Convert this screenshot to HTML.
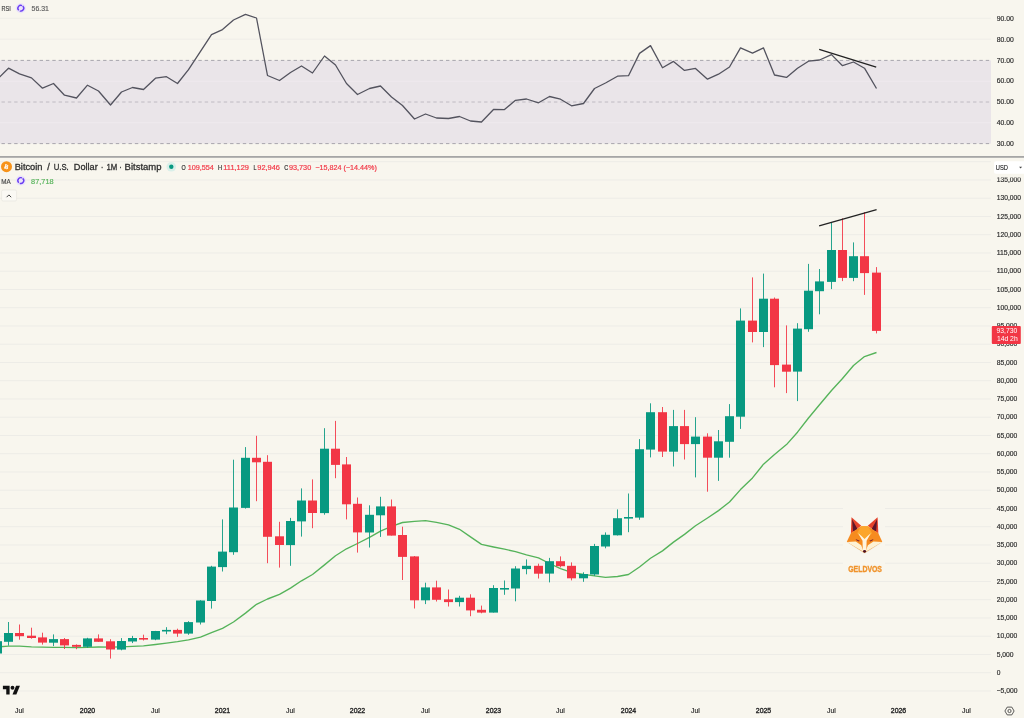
<!DOCTYPE html>
<html lang="en"><head><meta charset="utf-8"><title>Bitcoin / U.S. Dollar chart</title>
<style>
html,body{margin:0;padding:0;background:#f8f6ee;}
body{width:1024px;height:718px;overflow:hidden;}
svg{display:block;font-family:"Liberation Sans","DejaVu Sans",sans-serif;}
text{fill:#2c2c2c;stroke:#2c2c2c;stroke-width:0.18px;}
</style></head><body>
<svg width="1024" height="718" viewBox="0 0 1024 718">
<rect width="1024" height="718" fill="#f8f6ee"/>

<rect x="0" y="60.4" width="991" height="83.2" fill="#eae5e9"/>
<line x1="0" x2="991" y1="18.4" y2="18.4" stroke="#edece7" stroke-width="0.8"/>
<line x1="0" x2="991" y1="39.2" y2="39.2" stroke="#edece7" stroke-width="0.8"/>
<line x1="0" x2="991" y1="81.2" y2="81.2" stroke="#f0ecf0" stroke-width="0.8"/>
<line x1="0" x2="991" y1="122.8" y2="122.8" stroke="#f0ecf0" stroke-width="0.8"/>
<line x1="1.5" x2="991" y1="60.4" y2="60.4" stroke="#8a8692" stroke-width="0.7" stroke-dasharray="3.4 2.95"/>
<line x1="1.5" x2="991" y1="102.0" y2="102.0" stroke="#a9a5ae" stroke-width="0.65" stroke-dasharray="3.4 2.95"/>
<line x1="1.5" x2="991" y1="143.6" y2="143.6" stroke="#8a8692" stroke-width="0.7" stroke-dasharray="3.4 2.95"/>
<polyline points="-2.50,79.0 8.50,68.2 19.50,73.9 31.50,77.9 42.50,88.2 53.50,83.5 64.50,95.2 76.50,98.0 87.50,85.2 98.50,91.0 110.50,105.0 121.50,92.0 132.50,87.5 143.50,89.5 155.50,78.2 166.50,76.7 177.50,83.5 188.50,69.7 200.50,51.4 211.50,34.6 222.50,29.6 233.50,20.0 245.50,14.3 256.50,18.0 267.50,75.5 279.50,80.5 290.50,72.5 301.50,66.0 312.50,73.0 324.50,56.0 335.50,65.0 346.50,83.5 357.50,94.5 369.50,88.5 380.50,86.0 391.50,97.0 402.50,105.5 414.50,119.0 425.50,114.0 436.50,118.0 448.50,118.5 459.50,116.5 470.50,121.0 481.50,122.0 493.50,109.5 504.50,109.6 515.50,100.3 526.50,99.0 538.50,102.8 549.50,96.5 560.50,99.2 571.50,105.8 583.50,103.5 594.50,88.5 605.50,83.0 617.50,76.2 628.50,75.7 639.50,53.4 650.50,45.6 662.50,67.7 673.50,61.4 684.50,70.4 695.50,68.4 707.50,79.2 718.50,74.2 729.50,67.0 740.50,47.9 752.50,53.2 763.50,47.9 774.50,75.0 786.50,77.4 797.50,68.2 808.50,61.2 819.50,60.0 831.50,54.6 842.50,65.7 853.50,62.0 864.50,68.2 876.50,88.5" fill="none" stroke="#53535e" stroke-width="1.3" stroke-linejoin="round"/>
<line x1="819.2" y1="49.4" x2="876.2" y2="67.2" stroke="#222" stroke-width="1.3"/>
<text x="996.7" y="21.0" font-size="7.4" textLength="17" lengthAdjust="spacingAndGlyphs">90.00</text>
<text x="996.7" y="41.8" font-size="7.4" textLength="17" lengthAdjust="spacingAndGlyphs">80.00</text>
<text x="996.7" y="62.6" font-size="7.4" textLength="17" lengthAdjust="spacingAndGlyphs">70.00</text>
<text x="996.7" y="83.4" font-size="7.4" textLength="17" lengthAdjust="spacingAndGlyphs">60.00</text>
<text x="996.7" y="104.2" font-size="7.4" textLength="17" lengthAdjust="spacingAndGlyphs">50.00</text>
<text x="996.7" y="125.0" font-size="7.4" textLength="17" lengthAdjust="spacingAndGlyphs">40.00</text>
<text x="996.7" y="145.8" font-size="7.4" textLength="17" lengthAdjust="spacingAndGlyphs">30.00</text>
<text x="1.5" y="10.85" font-size="7.4" textLength="9.3" lengthAdjust="spacingAndGlyphs" style="fill:#444;stroke:#444">RSI</text>
<circle cx="20.8" cy="8.2" r="5" fill="#ebe4f9"/><circle cx="20.8" cy="8.2" r="2.9" fill="none" stroke="#6a3df2" stroke-width="1.4" stroke-dasharray="7.9 1.2" transform="rotate(-50 20.8 8.2)"/>
<text x="31.6" y="10.85" font-size="7.6" textLength="17.3" lengthAdjust="spacingAndGlyphs" style="fill:#5e5e5e;stroke:#5e5e5e">56.31</text>
<rect x="0" y="156" width="1024" height="1.8" fill="#a6a6a6"/>
<line x1="0" x2="991" y1="691.0" y2="691.0" stroke="#edece7" stroke-width="1"/>
<line x1="0" x2="991" y1="672.7" y2="672.7" stroke="#edece7" stroke-width="1"/>
<line x1="0" x2="991" y1="654.5" y2="654.5" stroke="#edece7" stroke-width="1"/>
<line x1="0" x2="991" y1="636.2" y2="636.2" stroke="#edece7" stroke-width="1"/>
<line x1="0" x2="991" y1="618.0" y2="618.0" stroke="#edece7" stroke-width="1"/>
<line x1="0" x2="991" y1="599.7" y2="599.7" stroke="#edece7" stroke-width="1"/>
<line x1="0" x2="991" y1="581.5" y2="581.5" stroke="#edece7" stroke-width="1"/>
<line x1="0" x2="991" y1="563.2" y2="563.2" stroke="#edece7" stroke-width="1"/>
<line x1="0" x2="991" y1="545.0" y2="545.0" stroke="#edece7" stroke-width="1"/>
<line x1="0" x2="991" y1="526.7" y2="526.7" stroke="#edece7" stroke-width="1"/>
<line x1="0" x2="991" y1="508.5" y2="508.5" stroke="#edece7" stroke-width="1"/>
<line x1="0" x2="991" y1="490.2" y2="490.2" stroke="#edece7" stroke-width="1"/>
<line x1="0" x2="991" y1="472.0" y2="472.0" stroke="#edece7" stroke-width="1"/>
<line x1="0" x2="991" y1="453.7" y2="453.7" stroke="#edece7" stroke-width="1"/>
<line x1="0" x2="991" y1="435.5" y2="435.5" stroke="#edece7" stroke-width="1"/>
<line x1="0" x2="991" y1="417.2" y2="417.2" stroke="#edece7" stroke-width="1"/>
<line x1="0" x2="991" y1="399.0" y2="399.0" stroke="#edece7" stroke-width="1"/>
<line x1="0" x2="991" y1="380.7" y2="380.7" stroke="#edece7" stroke-width="1"/>
<line x1="0" x2="991" y1="362.5" y2="362.5" stroke="#edece7" stroke-width="1"/>
<line x1="0" x2="991" y1="344.2" y2="344.2" stroke="#edece7" stroke-width="1"/>
<line x1="0" x2="991" y1="326.0" y2="326.0" stroke="#edece7" stroke-width="1"/>
<line x1="0" x2="991" y1="307.7" y2="307.7" stroke="#edece7" stroke-width="1"/>
<line x1="0" x2="991" y1="289.5" y2="289.5" stroke="#edece7" stroke-width="1"/>
<line x1="0" x2="991" y1="271.2" y2="271.2" stroke="#edece7" stroke-width="1"/>
<line x1="0" x2="991" y1="253.0" y2="253.0" stroke="#edece7" stroke-width="1"/>
<line x1="0" x2="991" y1="234.7" y2="234.7" stroke="#edece7" stroke-width="1"/>
<line x1="0" x2="991" y1="216.5" y2="216.5" stroke="#edece7" stroke-width="1"/>
<line x1="0" x2="991" y1="198.2" y2="198.2" stroke="#edece7" stroke-width="1"/>
<line x1="0" x2="991" y1="180.0" y2="180.0" stroke="#edece7" stroke-width="1"/>
<line x1="0" x2="991" y1="161.7" y2="161.7" stroke="#edece7" stroke-width="1"/>
<polyline points="-2.50,646.9 8.50,646.1 19.50,646.1 31.50,646.9 42.50,647.2 53.50,647.4 64.50,647.3 76.50,647.7 87.50,647.3 98.50,647.0 110.50,647.2 121.50,646.9 132.50,646.4 143.50,645.9 155.50,644.5 166.50,643.1 177.50,641.7 188.50,639.9 200.50,637.1 211.50,632.7 222.50,628.3 233.50,622.0 245.50,613.1 256.50,604.3 267.50,599.0 279.50,594.3 290.50,588.1 301.50,580.8 312.50,574.5 324.50,564.9 335.50,555.7 346.50,548.8 357.50,543.5 369.50,537.3 380.50,531.1 391.50,526.3 402.50,522.5 414.50,521.4 425.50,520.7 436.50,522.3 448.50,524.8 459.50,529.3 470.50,536.9 481.50,544.4 493.50,547.0 504.50,549.2 515.50,551.6 526.50,554.8 538.50,557.9 549.50,563.5 560.50,568.6 571.50,572.3 583.50,574.4 594.50,575.9 605.50,577.4 617.50,576.5 628.50,574.5 639.50,567.0 650.50,558.3 662.50,550.9 673.50,542.1 684.50,534.4 695.50,525.7 707.50,518.0 718.50,510.6 729.50,502.0 740.50,489.6 752.50,477.9 763.50,464.2 774.50,454.4 786.50,444.6 797.50,432.2 808.50,418.0 819.50,404.8 831.50,390.5 842.50,378.5 853.50,365.5 864.50,356.6 876.50,352.5" fill="none" stroke="#55b35a" stroke-width="1.35" stroke-linejoin="round"/>
<line x1="-2.50" x2="-2.50" y1="639.5" y2="653.2" stroke="#089981" stroke-width="1" stroke-opacity="0.88"/>
<rect x="-7.00" y="641.2" width="9" height="12.3" fill="#089981"/>
<line x1="8.50" x2="8.50" y1="622.0" y2="645.6" stroke="#089981" stroke-width="1" stroke-opacity="0.88"/>
<rect x="4.00" y="633.0" width="9" height="8.8" fill="#089981"/>
<line x1="19.50" x2="19.50" y1="624.5" y2="639.7" stroke="#f23645" stroke-width="1" stroke-opacity="0.88"/>
<rect x="15.00" y="633.0" width="9" height="3.2" fill="#f23645"/>
<line x1="31.50" x2="31.50" y1="627.7" y2="638.7" stroke="#f23645" stroke-width="1" stroke-opacity="0.88"/>
<rect x="27.00" y="635.7" width="9" height="2.3" fill="#f23645"/>
<line x1="42.50" x2="42.50" y1="632.7" y2="644.6" stroke="#f23645" stroke-width="1" stroke-opacity="0.88"/>
<rect x="38.00" y="637.4" width="9" height="5.2" fill="#f23645"/>
<line x1="53.50" x2="53.50" y1="634.4" y2="646.1" stroke="#089981" stroke-width="1" stroke-opacity="0.88"/>
<rect x="49.00" y="639.1" width="9" height="3.6" fill="#089981"/>
<line x1="64.50" x2="64.50" y1="638.0" y2="649.0" stroke="#f23645" stroke-width="1" stroke-opacity="0.88"/>
<rect x="60.00" y="639.1" width="9" height="6.3" fill="#f23645"/>
<line x1="76.50" x2="76.50" y1="644.4" y2="649.2" stroke="#f23645" stroke-width="1" stroke-opacity="0.88"/>
<rect x="72.00" y="644.9" width="9" height="1.9" fill="#f23645"/>
<line x1="87.50" x2="87.50" y1="637.8" y2="647.7" stroke="#089981" stroke-width="1" stroke-opacity="0.88"/>
<rect x="83.00" y="638.4" width="9" height="8.4" fill="#089981"/>
<line x1="98.50" x2="98.50" y1="634.4" y2="641.9" stroke="#f23645" stroke-width="1" stroke-opacity="0.88"/>
<rect x="94.00" y="638.4" width="9" height="3.4" fill="#f23645"/>
<line x1="110.50" x2="110.50" y1="639.2" y2="658.6" stroke="#f23645" stroke-width="1" stroke-opacity="0.88"/>
<rect x="106.00" y="641.3" width="9" height="8.2" fill="#f23645"/>
<line x1="121.50" x2="121.50" y1="638.1" y2="650.3" stroke="#089981" stroke-width="1" stroke-opacity="0.88"/>
<rect x="117.00" y="641.0" width="9" height="8.6" fill="#089981"/>
<line x1="132.50" x2="132.50" y1="635.9" y2="643.1" stroke="#089981" stroke-width="1" stroke-opacity="0.88"/>
<rect x="128.00" y="638.0" width="9" height="3.5" fill="#089981"/>
<line x1="143.50" x2="143.50" y1="634.7" y2="640.5" stroke="#f23645" stroke-width="1" stroke-opacity="0.88"/>
<rect x="139.00" y="638.0" width="9" height="1.6" fill="#f23645"/>
<line x1="155.50" x2="155.50" y1="630.9" y2="640.2" stroke="#089981" stroke-width="1" stroke-opacity="0.88"/>
<rect x="151.00" y="631.0" width="9" height="8.6" fill="#089981"/>
<line x1="166.50" x2="166.50" y1="627.2" y2="634.2" stroke="#089981" stroke-width="1" stroke-opacity="0.88"/>
<rect x="162.00" y="629.9" width="9" height="1.6" fill="#089981"/>
<line x1="177.50" x2="177.50" y1="628.7" y2="636.8" stroke="#f23645" stroke-width="1" stroke-opacity="0.88"/>
<rect x="173.00" y="629.9" width="9" height="3.7" fill="#f23645"/>
<line x1="188.50" x2="188.50" y1="621.2" y2="634.8" stroke="#089981" stroke-width="1" stroke-opacity="0.88"/>
<rect x="184.00" y="622.1" width="9" height="11.5" fill="#089981"/>
<line x1="200.50" x2="200.50" y1="600.2" y2="624.5" stroke="#089981" stroke-width="1" stroke-opacity="0.88"/>
<rect x="196.00" y="600.5" width="9" height="22.0" fill="#089981"/>
<line x1="211.50" x2="211.50" y1="565.8" y2="608.6" stroke="#089981" stroke-width="1" stroke-opacity="0.88"/>
<rect x="207.00" y="566.6" width="9" height="34.4" fill="#089981"/>
<line x1="222.50" x2="222.50" y1="519.4" y2="571.5" stroke="#089981" stroke-width="1" stroke-opacity="0.88"/>
<rect x="218.00" y="551.6" width="9" height="15.5" fill="#089981"/>
<line x1="233.50" x2="233.50" y1="459.7" y2="554.8" stroke="#089981" stroke-width="1" stroke-opacity="0.88"/>
<rect x="229.00" y="507.5" width="9" height="44.7" fill="#089981"/>
<line x1="245.50" x2="245.50" y1="447.1" y2="508.6" stroke="#089981" stroke-width="1" stroke-opacity="0.88"/>
<rect x="241.00" y="457.8" width="9" height="50.1" fill="#089981"/>
<line x1="256.50" x2="256.50" y1="435.8" y2="501.2" stroke="#f23645" stroke-width="1" stroke-opacity="0.88"/>
<rect x="252.00" y="457.8" width="9" height="4.5" fill="#f23645"/>
<line x1="267.50" x2="267.50" y1="455.2" y2="563.2" stroke="#f23645" stroke-width="1" stroke-opacity="0.88"/>
<rect x="263.00" y="461.8" width="9" height="75.0" fill="#f23645"/>
<line x1="279.50" x2="279.50" y1="521.8" y2="567.6" stroke="#f23645" stroke-width="1" stroke-opacity="0.88"/>
<rect x="275.00" y="536.3" width="9" height="8.7" fill="#f23645"/>
<line x1="290.50" x2="290.50" y1="517.9" y2="565.8" stroke="#089981" stroke-width="1" stroke-opacity="0.88"/>
<rect x="286.00" y="521.0" width="9" height="24.1" fill="#089981"/>
<line x1="301.50" x2="301.50" y1="488.4" y2="536.6" stroke="#089981" stroke-width="1" stroke-opacity="0.88"/>
<rect x="297.00" y="500.5" width="9" height="20.9" fill="#089981"/>
<line x1="312.50" x2="312.50" y1="479.4" y2="528.2" stroke="#f23645" stroke-width="1" stroke-opacity="0.88"/>
<rect x="308.00" y="500.5" width="9" height="12.5" fill="#f23645"/>
<line x1="324.50" x2="324.50" y1="428.2" y2="514.7" stroke="#089981" stroke-width="1" stroke-opacity="0.88"/>
<rect x="320.00" y="448.7" width="9" height="64.4" fill="#089981"/>
<line x1="335.50" x2="335.50" y1="420.9" y2="478.2" stroke="#f23645" stroke-width="1" stroke-opacity="0.88"/>
<rect x="331.00" y="448.7" width="9" height="16.2" fill="#f23645"/>
<line x1="346.50" x2="346.50" y1="457.0" y2="519.4" stroke="#f23645" stroke-width="1" stroke-opacity="0.88"/>
<rect x="342.00" y="464.4" width="9" height="39.9" fill="#f23645"/>
<line x1="357.50" x2="357.50" y1="497.5" y2="552.6" stroke="#f23645" stroke-width="1" stroke-opacity="0.88"/>
<rect x="353.00" y="503.8" width="9" height="28.6" fill="#f23645"/>
<line x1="369.50" x2="369.50" y1="505.3" y2="547.5" stroke="#089981" stroke-width="1" stroke-opacity="0.88"/>
<rect x="365.00" y="514.8" width="9" height="17.7" fill="#089981"/>
<line x1="380.50" x2="380.50" y1="496.8" y2="536.9" stroke="#089981" stroke-width="1" stroke-opacity="0.88"/>
<rect x="376.00" y="506.4" width="9" height="8.9" fill="#089981"/>
<line x1="391.50" x2="391.50" y1="499.5" y2="535.5" stroke="#f23645" stroke-width="1" stroke-opacity="0.88"/>
<rect x="387.00" y="506.4" width="9" height="29.2" fill="#f23645"/>
<line x1="402.50" x2="402.50" y1="526.7" y2="580.0" stroke="#f23645" stroke-width="1" stroke-opacity="0.88"/>
<rect x="398.00" y="535.0" width="9" height="21.9" fill="#f23645"/>
<line x1="414.50" x2="414.50" y1="556.0" y2="608.5" stroke="#f23645" stroke-width="1" stroke-opacity="0.88"/>
<rect x="410.00" y="556.4" width="9" height="43.9" fill="#f23645"/>
<line x1="425.50" x2="425.50" y1="582.7" y2="604.1" stroke="#089981" stroke-width="1" stroke-opacity="0.88"/>
<rect x="421.00" y="587.4" width="9" height="12.9" fill="#089981"/>
<line x1="436.50" x2="436.50" y1="580.7" y2="601.5" stroke="#f23645" stroke-width="1" stroke-opacity="0.88"/>
<rect x="432.00" y="587.4" width="9" height="12.4" fill="#f23645"/>
<line x1="448.50" x2="448.50" y1="589.5" y2="606.5" stroke="#f23645" stroke-width="1" stroke-opacity="0.88"/>
<rect x="444.00" y="599.3" width="9" height="2.8" fill="#f23645"/>
<line x1="459.50" x2="459.50" y1="595.8" y2="606.5" stroke="#089981" stroke-width="1" stroke-opacity="0.88"/>
<rect x="455.00" y="597.7" width="9" height="4.4" fill="#089981"/>
<line x1="470.50" x2="470.50" y1="594.3" y2="616.2" stroke="#f23645" stroke-width="1" stroke-opacity="0.88"/>
<rect x="466.00" y="597.7" width="9" height="12.7" fill="#f23645"/>
<line x1="481.50" x2="481.50" y1="605.6" y2="613.3" stroke="#f23645" stroke-width="1" stroke-opacity="0.88"/>
<rect x="477.00" y="609.8" width="9" height="2.8" fill="#f23645"/>
<line x1="493.50" x2="493.50" y1="585.2" y2="612.5" stroke="#089981" stroke-width="1" stroke-opacity="0.88"/>
<rect x="489.00" y="588.0" width="9" height="24.6" fill="#089981"/>
<line x1="504.50" x2="504.50" y1="580.5" y2="594.8" stroke="#089981" stroke-width="1" stroke-opacity="0.88"/>
<rect x="500.00" y="588.0" width="9" height="1.6" fill="#089981"/>
<line x1="515.50" x2="515.50" y1="566.2" y2="601.3" stroke="#089981" stroke-width="1" stroke-opacity="0.88"/>
<rect x="511.00" y="568.5" width="9" height="20.0" fill="#089981"/>
<line x1="526.50" x2="526.50" y1="559.4" y2="574.3" stroke="#089981" stroke-width="1" stroke-opacity="0.88"/>
<rect x="522.00" y="565.8" width="9" height="3.3" fill="#089981"/>
<line x1="538.50" x2="538.50" y1="563.7" y2="578.5" stroke="#f23645" stroke-width="1" stroke-opacity="0.88"/>
<rect x="534.00" y="565.8" width="9" height="7.9" fill="#f23645"/>
<line x1="549.50" x2="549.50" y1="557.9" y2="582.4" stroke="#089981" stroke-width="1" stroke-opacity="0.88"/>
<rect x="545.00" y="561.2" width="9" height="12.4" fill="#089981"/>
<line x1="560.50" x2="560.50" y1="556.4" y2="567.4" stroke="#f23645" stroke-width="1" stroke-opacity="0.88"/>
<rect x="556.00" y="561.2" width="9" height="5.0" fill="#f23645"/>
<line x1="571.50" x2="571.50" y1="562.4" y2="580.4" stroke="#f23645" stroke-width="1" stroke-opacity="0.88"/>
<rect x="567.00" y="565.8" width="9" height="12.5" fill="#f23645"/>
<line x1="583.50" x2="583.50" y1="572.3" y2="581.8" stroke="#089981" stroke-width="1" stroke-opacity="0.88"/>
<rect x="579.00" y="574.0" width="9" height="4.3" fill="#089981"/>
<line x1="594.50" x2="594.50" y1="543.9" y2="575.9" stroke="#089981" stroke-width="1" stroke-opacity="0.88"/>
<rect x="590.00" y="546.0" width="9" height="28.5" fill="#089981"/>
<line x1="605.50" x2="605.50" y1="532.4" y2="548.3" stroke="#089981" stroke-width="1" stroke-opacity="0.88"/>
<rect x="601.00" y="534.8" width="9" height="11.7" fill="#089981"/>
<line x1="617.50" x2="617.50" y1="509.4" y2="535.5" stroke="#089981" stroke-width="1" stroke-opacity="0.88"/>
<rect x="613.00" y="518.2" width="9" height="17.1" fill="#089981"/>
<line x1="628.50" x2="628.50" y1="493.5" y2="532.2" stroke="#089981" stroke-width="1" stroke-opacity="0.88"/>
<rect x="624.00" y="517.0" width="9" height="1.6" fill="#089981"/>
<line x1="639.50" x2="639.50" y1="439.1" y2="519.8" stroke="#089981" stroke-width="1" stroke-opacity="0.88"/>
<rect x="635.00" y="449.2" width="9" height="68.4" fill="#089981"/>
<line x1="650.50" x2="650.50" y1="403.3" y2="457.4" stroke="#089981" stroke-width="1" stroke-opacity="0.88"/>
<rect x="646.00" y="412.2" width="9" height="37.4" fill="#089981"/>
<line x1="662.50" x2="662.50" y1="407.0" y2="457.0" stroke="#f23645" stroke-width="1" stroke-opacity="0.88"/>
<rect x="658.00" y="412.2" width="9" height="39.4" fill="#f23645"/>
<line x1="673.50" x2="673.50" y1="409.9" y2="466.5" stroke="#089981" stroke-width="1" stroke-opacity="0.88"/>
<rect x="669.00" y="426.1" width="9" height="25.6" fill="#089981"/>
<line x1="684.50" x2="684.50" y1="409.9" y2="459.5" stroke="#f23645" stroke-width="1" stroke-opacity="0.88"/>
<rect x="680.00" y="426.1" width="9" height="18.0" fill="#f23645"/>
<line x1="695.50" x2="695.50" y1="417.2" y2="477.4" stroke="#089981" stroke-width="1" stroke-opacity="0.88"/>
<rect x="691.00" y="436.6" width="9" height="7.5" fill="#089981"/>
<line x1="707.50" x2="707.50" y1="433.3" y2="491.7" stroke="#f23645" stroke-width="1" stroke-opacity="0.88"/>
<rect x="703.00" y="436.6" width="9" height="21.1" fill="#f23645"/>
<line x1="718.50" x2="718.50" y1="430.0" y2="480.9" stroke="#089981" stroke-width="1" stroke-opacity="0.88"/>
<rect x="714.00" y="441.3" width="9" height="16.4" fill="#089981"/>
<line x1="729.50" x2="729.50" y1="404.1" y2="457.7" stroke="#089981" stroke-width="1" stroke-opacity="0.88"/>
<rect x="725.00" y="416.2" width="9" height="25.6" fill="#089981"/>
<line x1="740.50" x2="740.50" y1="308.4" y2="428.9" stroke="#089981" stroke-width="1" stroke-opacity="0.88"/>
<rect x="736.00" y="320.6" width="9" height="96.1" fill="#089981"/>
<line x1="752.50" x2="752.50" y1="277.4" y2="342.4" stroke="#f23645" stroke-width="1" stroke-opacity="0.88"/>
<rect x="748.00" y="320.6" width="9" height="11.4" fill="#f23645"/>
<line x1="763.50" x2="763.50" y1="273.6" y2="347.1" stroke="#089981" stroke-width="1" stroke-opacity="0.88"/>
<rect x="759.00" y="298.7" width="9" height="33.3" fill="#089981"/>
<line x1="774.50" x2="774.50" y1="297.5" y2="387.3" stroke="#f23645" stroke-width="1" stroke-opacity="0.88"/>
<rect x="770.00" y="298.7" width="9" height="66.4" fill="#f23645"/>
<line x1="786.50" x2="786.50" y1="325.4" y2="393.1" stroke="#f23645" stroke-width="1" stroke-opacity="0.88"/>
<rect x="782.00" y="364.6" width="9" height="7.1" fill="#f23645"/>
<line x1="797.50" x2="797.50" y1="323.2" y2="401.1" stroke="#089981" stroke-width="1" stroke-opacity="0.88"/>
<rect x="793.00" y="328.6" width="9" height="43.0" fill="#089981"/>
<line x1="808.50" x2="808.50" y1="263.9" y2="331.8" stroke="#089981" stroke-width="1" stroke-opacity="0.88"/>
<rect x="804.00" y="290.7" width="9" height="38.5" fill="#089981"/>
<line x1="819.50" x2="819.50" y1="269.0" y2="314.3" stroke="#089981" stroke-width="1" stroke-opacity="0.88"/>
<rect x="815.00" y="281.4" width="9" height="9.8" fill="#089981"/>
<line x1="831.50" x2="831.50" y1="223.0" y2="289.1" stroke="#089981" stroke-width="1" stroke-opacity="0.88"/>
<rect x="827.00" y="250.0" width="9" height="31.9" fill="#089981"/>
<line x1="842.50" x2="842.50" y1="218.3" y2="281.1" stroke="#f23645" stroke-width="1" stroke-opacity="0.88"/>
<rect x="838.00" y="250.0" width="9" height="27.9" fill="#f23645"/>
<line x1="853.50" x2="853.50" y1="242.4" y2="281.2" stroke="#089981" stroke-width="1" stroke-opacity="0.88"/>
<rect x="849.00" y="256.2" width="9" height="21.7" fill="#089981"/>
<line x1="864.50" x2="864.50" y1="212.1" y2="294.9" stroke="#f23645" stroke-width="1" stroke-opacity="0.88"/>
<rect x="860.00" y="256.2" width="9" height="16.9" fill="#f23645"/>
<line x1="876.50" x2="876.50" y1="267.1" y2="333.4" stroke="#f23645" stroke-width="1" stroke-opacity="0.88"/>
<rect x="872.00" y="272.6" width="9" height="58.3" fill="#f23645"/>
<line x1="819.1" y1="225.8" x2="876.6" y2="209.6" stroke="#222" stroke-width="1.3"/>
<text x="996.7" y="693.0" font-size="7.4" textLength="20.8" lengthAdjust="spacingAndGlyphs">−5,000</text>
<text x="996.7" y="674.7" font-size="7.4" textLength="3.7" lengthAdjust="spacingAndGlyphs">0</text>
<text x="996.7" y="656.5" font-size="7.4" textLength="16.9" lengthAdjust="spacingAndGlyphs">5,000</text>
<text x="996.7" y="638.2" font-size="7.4" textLength="20.6" lengthAdjust="spacingAndGlyphs">10,000</text>
<text x="996.7" y="620.0" font-size="7.4" textLength="20.6" lengthAdjust="spacingAndGlyphs">15,000</text>
<text x="996.7" y="601.7" font-size="7.4" textLength="20.6" lengthAdjust="spacingAndGlyphs">20,000</text>
<text x="996.7" y="583.5" font-size="7.4" textLength="20.6" lengthAdjust="spacingAndGlyphs">25,000</text>
<text x="996.7" y="565.2" font-size="7.4" textLength="20.6" lengthAdjust="spacingAndGlyphs">30,000</text>
<text x="996.7" y="547.0" font-size="7.4" textLength="20.6" lengthAdjust="spacingAndGlyphs">35,000</text>
<text x="996.7" y="528.7" font-size="7.4" textLength="20.6" lengthAdjust="spacingAndGlyphs">40,000</text>
<text x="996.7" y="510.5" font-size="7.4" textLength="20.6" lengthAdjust="spacingAndGlyphs">45,000</text>
<text x="996.7" y="492.2" font-size="7.4" textLength="20.6" lengthAdjust="spacingAndGlyphs">50,000</text>
<text x="996.7" y="474.0" font-size="7.4" textLength="20.6" lengthAdjust="spacingAndGlyphs">55,000</text>
<text x="996.7" y="455.7" font-size="7.4" textLength="20.6" lengthAdjust="spacingAndGlyphs">60,000</text>
<text x="996.7" y="437.5" font-size="7.4" textLength="20.6" lengthAdjust="spacingAndGlyphs">65,000</text>
<text x="996.7" y="419.2" font-size="7.4" textLength="20.6" lengthAdjust="spacingAndGlyphs">70,000</text>
<text x="996.7" y="401.0" font-size="7.4" textLength="20.6" lengthAdjust="spacingAndGlyphs">75,000</text>
<text x="996.7" y="382.7" font-size="7.4" textLength="20.6" lengthAdjust="spacingAndGlyphs">80,000</text>
<text x="996.7" y="364.5" font-size="7.4" textLength="20.6" lengthAdjust="spacingAndGlyphs">85,000</text>
<text x="996.7" y="346.2" font-size="7.4" textLength="20.6" lengthAdjust="spacingAndGlyphs">90,000</text>
<text x="996.7" y="328.0" font-size="7.4" textLength="20.6" lengthAdjust="spacingAndGlyphs">95,000</text>
<text x="996.7" y="309.7" font-size="7.4" textLength="24.3" lengthAdjust="spacingAndGlyphs">100,000</text>
<text x="996.7" y="291.5" font-size="7.4" textLength="24.3" lengthAdjust="spacingAndGlyphs">105,000</text>
<text x="996.7" y="273.2" font-size="7.4" textLength="24.3" lengthAdjust="spacingAndGlyphs">110,000</text>
<text x="996.7" y="255.0" font-size="7.4" textLength="24.3" lengthAdjust="spacingAndGlyphs">115,000</text>
<text x="996.7" y="236.7" font-size="7.4" textLength="24.3" lengthAdjust="spacingAndGlyphs">120,000</text>
<text x="996.7" y="218.5" font-size="7.4" textLength="24.3" lengthAdjust="spacingAndGlyphs">125,000</text>
<text x="996.7" y="200.2" font-size="7.4" textLength="24.3" lengthAdjust="spacingAndGlyphs">130,000</text>
<text x="996.7" y="182.0" font-size="7.4" textLength="24.3" lengthAdjust="spacingAndGlyphs" clip-path="url(#axclip)">135,000</text>
<defs><clipPath id="axclip"><rect x="990" y="177.5" width="40" height="20"/></clipPath></defs>
<rect x="994" y="161.3" width="32" height="12.5" rx="2" fill="#ffffff"/>
<text x="995.8" y="169.8" font-size="8.1" textLength="12.2" lengthAdjust="spacingAndGlyphs" fill="#333">USD</text>
<path d="M1019.1 166.7 L1020.6 168.4 L1022.1 166.7 Z" fill="#444"/>
<rect x="991.8" y="325.9" width="29" height="18.1" rx="1" fill="#f23645"/>
<text x="996.5" y="332.9" font-size="7" textLength="20.9" lengthAdjust="spacingAndGlyphs" style="fill:#fff;stroke:none">93,730</text>
<text x="996.9" y="340.9" font-size="6.9" textLength="20.8" lengthAdjust="spacingAndGlyphs" style="fill:#fff;stroke:none">14d 2h</text>
<circle cx="6.5" cy="166.7" r="5.5" fill="#f7931a"/>
<text x="6.6" y="169" font-size="6.2" text-anchor="middle" transform="rotate(12 6.5 166.7)" style="fill:#fff;stroke:#fff;stroke-width:0.25px">Ƀ</text>
<text x="14.65" y="170" font-size="9.2" textLength="27.85" lengthAdjust="spacingAndGlyphs" style="fill:#2f2f2f;stroke:#2f2f2f;stroke-width:0.3px">Bitcoin</text>
<text x="47.3" y="170" font-size="9.2" textLength="2.60" lengthAdjust="spacingAndGlyphs" style="fill:#2f2f2f;stroke:#2f2f2f;stroke-width:0.3px">/</text>
<text x="53.7" y="170" font-size="9.2" textLength="15.05" lengthAdjust="spacingAndGlyphs" style="fill:#2f2f2f;stroke:#2f2f2f;stroke-width:0.3px">U.S.</text>
<text x="73.8" y="170" font-size="9.2" textLength="23.90" lengthAdjust="spacingAndGlyphs" style="fill:#2f2f2f;stroke:#2f2f2f;stroke-width:0.3px">Dollar</text>
<text x="100.9" y="170" font-size="9.2" textLength="2.20" lengthAdjust="spacingAndGlyphs" style="fill:#2f2f2f;stroke:#2f2f2f;stroke-width:0.3px">·</text>
<text x="106.4" y="170" font-size="9.2" textLength="10.80" lengthAdjust="spacingAndGlyphs" style="fill:#2f2f2f;stroke:#2f2f2f;stroke-width:0.3px">1M</text>
<text x="119.6" y="170" font-size="9.2" textLength="2.20" lengthAdjust="spacingAndGlyphs" style="fill:#2f2f2f;stroke:#2f2f2f;stroke-width:0.3px">·</text>
<text x="124.6" y="170" font-size="9.2" textLength="36.90" lengthAdjust="spacingAndGlyphs" style="fill:#2f2f2f;stroke:#2f2f2f;stroke-width:0.3px">Bitstamp</text>
<circle cx="171.3" cy="166.8" r="4.8" fill="#d9efe9"/><circle cx="171.3" cy="166.8" r="2.2" fill="#089981"/>
<text x="181.6" y="169.6" font-size="7.4" textLength="4.2" lengthAdjust="spacingAndGlyphs">O</text>
<text x="187.7" y="169.6" font-size="7.4" textLength="26.2" lengthAdjust="spacingAndGlyphs" style="fill:#f23645;stroke:#f23645">109,554</text>
<text x="218.1" y="169.6" font-size="7.4" textLength="4.1" lengthAdjust="spacingAndGlyphs">H</text>
<text x="223.3" y="169.6" font-size="7.4" textLength="25.7" lengthAdjust="spacingAndGlyphs" style="fill:#f23645;stroke:#f23645">111,129</text>
<text x="253.5" y="169.6" font-size="7.4" textLength="3.0" lengthAdjust="spacingAndGlyphs">L</text>
<text x="257.3" y="169.6" font-size="7.4" textLength="22.7" lengthAdjust="spacingAndGlyphs" style="fill:#f23645;stroke:#f23645">92,946</text>
<text x="284.2" y="169.6" font-size="7.4" textLength="4.0" lengthAdjust="spacingAndGlyphs">C</text>
<text x="288.9" y="169.6" font-size="7.4" textLength="22.3" lengthAdjust="spacingAndGlyphs" style="fill:#f23645;stroke:#f23645">93,730</text>
<text x="315.4" y="169.6" font-size="7.4" textLength="61.4" lengthAdjust="spacingAndGlyphs" style="fill:#f23645;stroke:#f23645">−15,824 (−14.44%)</text>
<text x="1.3" y="183.8" font-size="7" textLength="9.5" lengthAdjust="spacingAndGlyphs" style="fill:#4a4a4a;stroke:#4a4a4a">MA</text>
<circle cx="20.8" cy="180.6" r="5" fill="#ebe4f9"/><circle cx="20.8" cy="180.6" r="2.9" fill="none" stroke="#6a3df2" stroke-width="1.4" stroke-dasharray="7.9 1.2" transform="rotate(-50 20.8 180.6)"/>
<text x="31.1" y="183.8" font-size="7.7" textLength="22.5" lengthAdjust="spacingAndGlyphs" style="fill:#56b35a;stroke:#56b35a">87,718</text>
<rect x="1.6" y="190" width="15" height="11" rx="1.5" fill="#faf9f4" stroke="#e4e2dc" stroke-width="0.6"/>
<path d="M6.6 197.2 L8.9 194.9 L11.2 197.2" fill="none" stroke="#444" stroke-width="1"/>
<text x="79.8" y="713.3" font-size="7.5" textLength="15.4" lengthAdjust="spacingAndGlyphs" style="stroke-width:0.4px">2020</text>
<text x="214.8" y="713.3" font-size="7.5" textLength="15.4" lengthAdjust="spacingAndGlyphs" style="stroke-width:0.4px">2021</text>
<text x="349.8" y="713.3" font-size="7.5" textLength="15.4" lengthAdjust="spacingAndGlyphs" style="stroke-width:0.4px">2022</text>
<text x="485.8" y="713.3" font-size="7.5" textLength="15.4" lengthAdjust="spacingAndGlyphs" style="stroke-width:0.4px">2023</text>
<text x="620.8" y="713.3" font-size="7.5" textLength="15.4" lengthAdjust="spacingAndGlyphs" style="stroke-width:0.4px">2024</text>
<text x="755.8" y="713.3" font-size="7.5" textLength="15.4" lengthAdjust="spacingAndGlyphs" style="stroke-width:0.4px">2025</text>
<text x="890.8" y="713.3" font-size="7.5" textLength="15.4" lengthAdjust="spacingAndGlyphs" style="stroke-width:0.4px">2026</text>
<text x="15.1" y="713.3" font-size="7.5" textLength="8.8" lengthAdjust="spacingAndGlyphs">Jul</text>
<text x="151.1" y="713.3" font-size="7.5" textLength="8.8" lengthAdjust="spacingAndGlyphs">Jul</text>
<text x="286.1" y="713.3" font-size="7.5" textLength="8.8" lengthAdjust="spacingAndGlyphs">Jul</text>
<text x="421.1" y="713.3" font-size="7.5" textLength="8.8" lengthAdjust="spacingAndGlyphs">Jul</text>
<text x="556.1" y="713.3" font-size="7.5" textLength="8.8" lengthAdjust="spacingAndGlyphs">Jul</text>
<text x="691.1" y="713.3" font-size="7.5" textLength="8.8" lengthAdjust="spacingAndGlyphs">Jul</text>
<text x="827.1" y="713.3" font-size="7.5" textLength="8.8" lengthAdjust="spacingAndGlyphs">Jul</text>
<text x="962.1" y="713.3" font-size="7.5" textLength="8.8" lengthAdjust="spacingAndGlyphs">Jul</text>
<g transform="translate(2.9,683.9) scale(0.48)" fill="#111"><path d="M14 22H7V11H0V4h14v18z"/><circle cx="20" cy="8" r="4"/><path d="M28 22h-8l7.5-18h8L28 22z"/></g>
<g transform="translate(1009.5,711)" fill="none" stroke="#333" stroke-width="0.8"><path d="M-4.6 0 L-2.3 -3.9 L2.3 -3.9 L4.6 0 L2.3 3.9 L-2.3 3.9 Z"/><circle r="1.6"/></g>
<rect x="843" y="506" width="42" height="73" fill="#f8f6ee"/>
<polygon points="847.77,542.64 864.56,553.79 881.87,542.64 864.56,547.90" fill="#e6e0d2" opacity="0.7"/>
<polygon points="851.49,517.26 850.85,533.47 861.23,525.78" fill="#e5432a"/>
<polygon points="852.06,519.37 853.03,531.55 857.77,529.44" fill="#5c1629"/>
<polygon points="877.58,517.26 878.35,533.47 867.77,525.78" fill="#e5432a"/>
<polygon points="877.13,519.37 876.10,531.55 871.36,529.44" fill="#5c1629"/>
<polygon points="846.81,541.81 850.85,533.28 860.97,526.36 868.03,526.36 878.35,533.28 882.26,541.81 864.56,553.03" fill="#f68b1f"/>
<polygon points="860.97,526.36 868.03,526.36 872.13,533.15 864.56,540.85 857.13,533.15" fill="#fca62c"/>
<polygon points="847.00,541.94 855.78,541.62 861.23,545.33 863.67,552.06" fill="#fdf2d6"/>
<polygon points="882.13,541.94 873.41,541.62 867.90,545.33 865.46,552.06" fill="#fdf2d6"/>
<polygon points="858.15,533.28 861.23,535.85 864.56,538.92 867.90,535.85 870.85,533.28 866.62,540.85 866.36,549.82 864.56,552.06 862.77,549.82 862.51,540.85" fill="#fff5e0"/>
<polygon points="855.59,538.92 859.82,540.72 858.79,541.62 856.62,540.59" fill="#7a2233"/>
<polygon points="873.54,538.92 869.31,540.72 870.33,541.62 872.51,540.59" fill="#7a2233"/>
<ellipse cx="864.56" cy="551.36" rx="1.5" ry="1.4" fill="#4a1024"/>
<text x="848.2" y="571.8" font-size="9.2" font-weight="bold" textLength="33.8" lengthAdjust="spacingAndGlyphs" style="fill:#f0932b;stroke:#f0932b;stroke-width:0.35px">GELDVOS</text>
</svg></body></html>
